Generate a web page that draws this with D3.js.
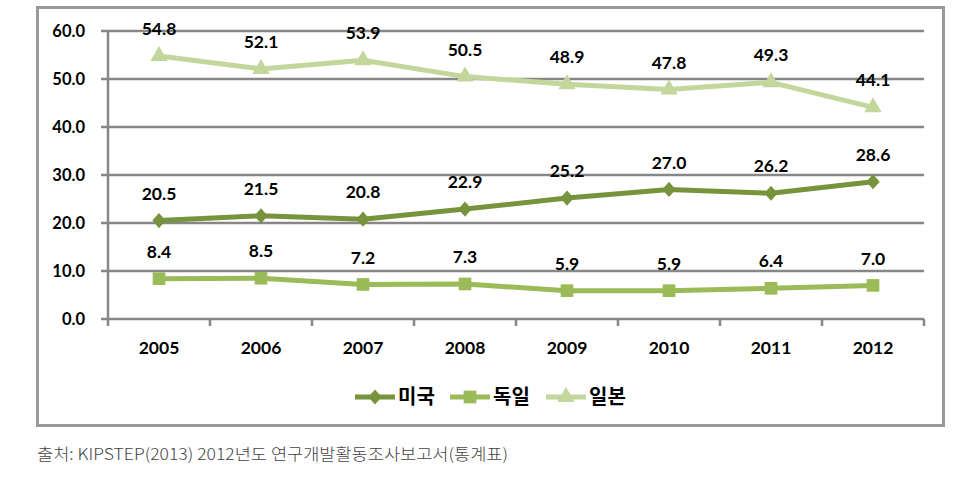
<!DOCTYPE html>
<html><head><meta charset="utf-8">
<script src="https://cdn.jsdelivr.net/npm/d3@7"></script>
<style>body{margin:0;background:#fff}svg{display:block}</style>
</head><body>
<svg id="c" width="961" height="499"></svg>
<script>
const years = ["2005","2006","2007","2008","2009","2010","2011","2012"];
const usa = [20.5,21.5,20.8,22.9,25.2,27.0,26.2,28.6];
const germany = [8.4,8.5,7.2,7.3,5.9,5.9,6.4,7.0];
const japan = [54.8,52.1,53.9,50.5,48.9,47.8,49.3,44.1];
const seriesNames = ["미국","독일","일본"];
const yTicks = [0,10,20,30,40,50,60];
const sourceText = "출처: KIPSTEP(2013) 2012년도 연구개발활동조사보고서(통계표)";

// custom rhombus symbol
const rhombus = {draw(ctx, size){ const h=Math.sqrt(size)*0.62, w=h*0.88;
  ctx.moveTo(0,-h); ctx.lineTo(w,0); ctx.lineTo(0,h); ctx.lineTo(-w,0); ctx.closePath(); }};

const series = [
  {name:seriesNames[0], values:usa, color:"#77933C", shape:rhombus, size:150},
  {name:seriesNames[1], values:germany, color:"#9BBB59", shape:d3.symbolSquare, size:160},
  {name:seriesNames[2], values:japan, color:"#C3D69B", shape:d3.symbolTriangle, size:130}
];

const svg = d3.select("#c");
const font = "Lato, 'Noto Sans CJK KR', sans-serif";

svg.append("rect").attr("x",37.5).attr("y",7.5).attr("width",906).attr("height",418)
  .attr("fill","#fff").attr("stroke","#999").attr("stroke-width",3);

const x = d3.scaleBand().domain(years).range([108,924]);
const y = d3.scaleLinear().domain([0,60]).range([319,31]);

svg.append("g").selectAll("line").data(yTicks).join("line")
  .attr("x1",101).attr("x2",924).attr("y1",d=>y(d)).attr("y2",d=>y(d))
  .attr("stroke","#878787").attr("stroke-width",2.5);
svg.append("line").attr("x1",108).attr("x2",108).attr("y1",y(60)).attr("y2",y(0)+7)
  .attr("stroke","#878787").attr("stroke-width",2.5);
const bounds = years.map(d=>x(d)).concat([924]);
svg.append("g").selectAll("line").data(bounds.slice(1)).join("line")
  .attr("x1",d=>d).attr("x2",d=>d).attr("y1",y(0)).attr("y2",y(0)+7)
  .attr("stroke","#878787").attr("stroke-width",2.5);

svg.append("g").selectAll("text").data(yTicks).join("text")
  .attr("x",85).attr("y",d=>y(d)).attr("dy","0.35em").attr("text-anchor","end")
  .attr("font-family",font).attr("font-weight","bold").attr("font-size",16.5).attr("fill","#000")
  .text(d=>d.toFixed(1));
svg.append("g").selectAll("text").data(years).join("text")
  .attr("x",d=>x(d)+x.bandwidth()/2).attr("y",348).attr("dy","0.35em").attr("text-anchor","middle")
  .attr("font-family",font).attr("font-weight","bold").attr("font-size",17.5).attr("fill","#000")
  .text(d=>d);

const cx = d=>x(d)+x.bandwidth()/2;
const line = d3.line().x((v,i)=>cx(years[i])).y(v=>y(v));

series.forEach(s=>{
  svg.append("path").attr("d",line(s.values)).attr("fill","none")
    .attr("stroke",s.color).attr("stroke-width",5).attr("stroke-linejoin","round");
  svg.append("g").selectAll("path").data(s.values).join("path")
    .attr("d",d3.symbol().type(s.shape).size(s.size))
    .attr("transform",(v,i)=>`translate(${cx(years[i])},${y(v)})`)
    .attr("fill",s.color);
  svg.append("g").selectAll("text").data(s.values).join("text")
    .attr("x",(v,i)=>cx(years[i])).attr("y",v=>y(v)-27).attr("dy","0.35em")
    .attr("text-anchor","middle").attr("font-family",font).attr("font-weight","bold")
    .attr("font-size",17.5).attr("fill","#000").text(v=>v.toFixed(1));
});

const legX = [355,450,546];
series.forEach((s,i)=>{
  const g = svg.append("g").attr("transform",`translate(${legX[i]},397)`);
  g.append("line").attr("x1",0).attr("x2",40).attr("y1",0).attr("y2",0)
    .attr("stroke",s.color).attr("stroke-width",5);
  g.append("path").attr("d",d3.symbol().type(s.shape).size(s.size)())
    .attr("transform","translate(20,0)").attr("fill",s.color);
  g.append("text").attr("x",43).attr("y",0).attr("dy","0.36em")
    .attr("font-family","'Noto Sans CJK KR', sans-serif").attr("font-weight","bold")
    .attr("font-size",20).attr("fill","#000").text(s.name);
});

svg.append("text").attr("x",37).attr("y",460)
  .attr("font-family","'Noto Sans CJK KR', sans-serif").attr("font-weight",300)
  .attr("font-size",16).attr("fill","#444")
  .attr("textLength",471).attr("lengthAdjust","spacingAndGlyphs")
  .text(sourceText);
</script>
</body></html>
